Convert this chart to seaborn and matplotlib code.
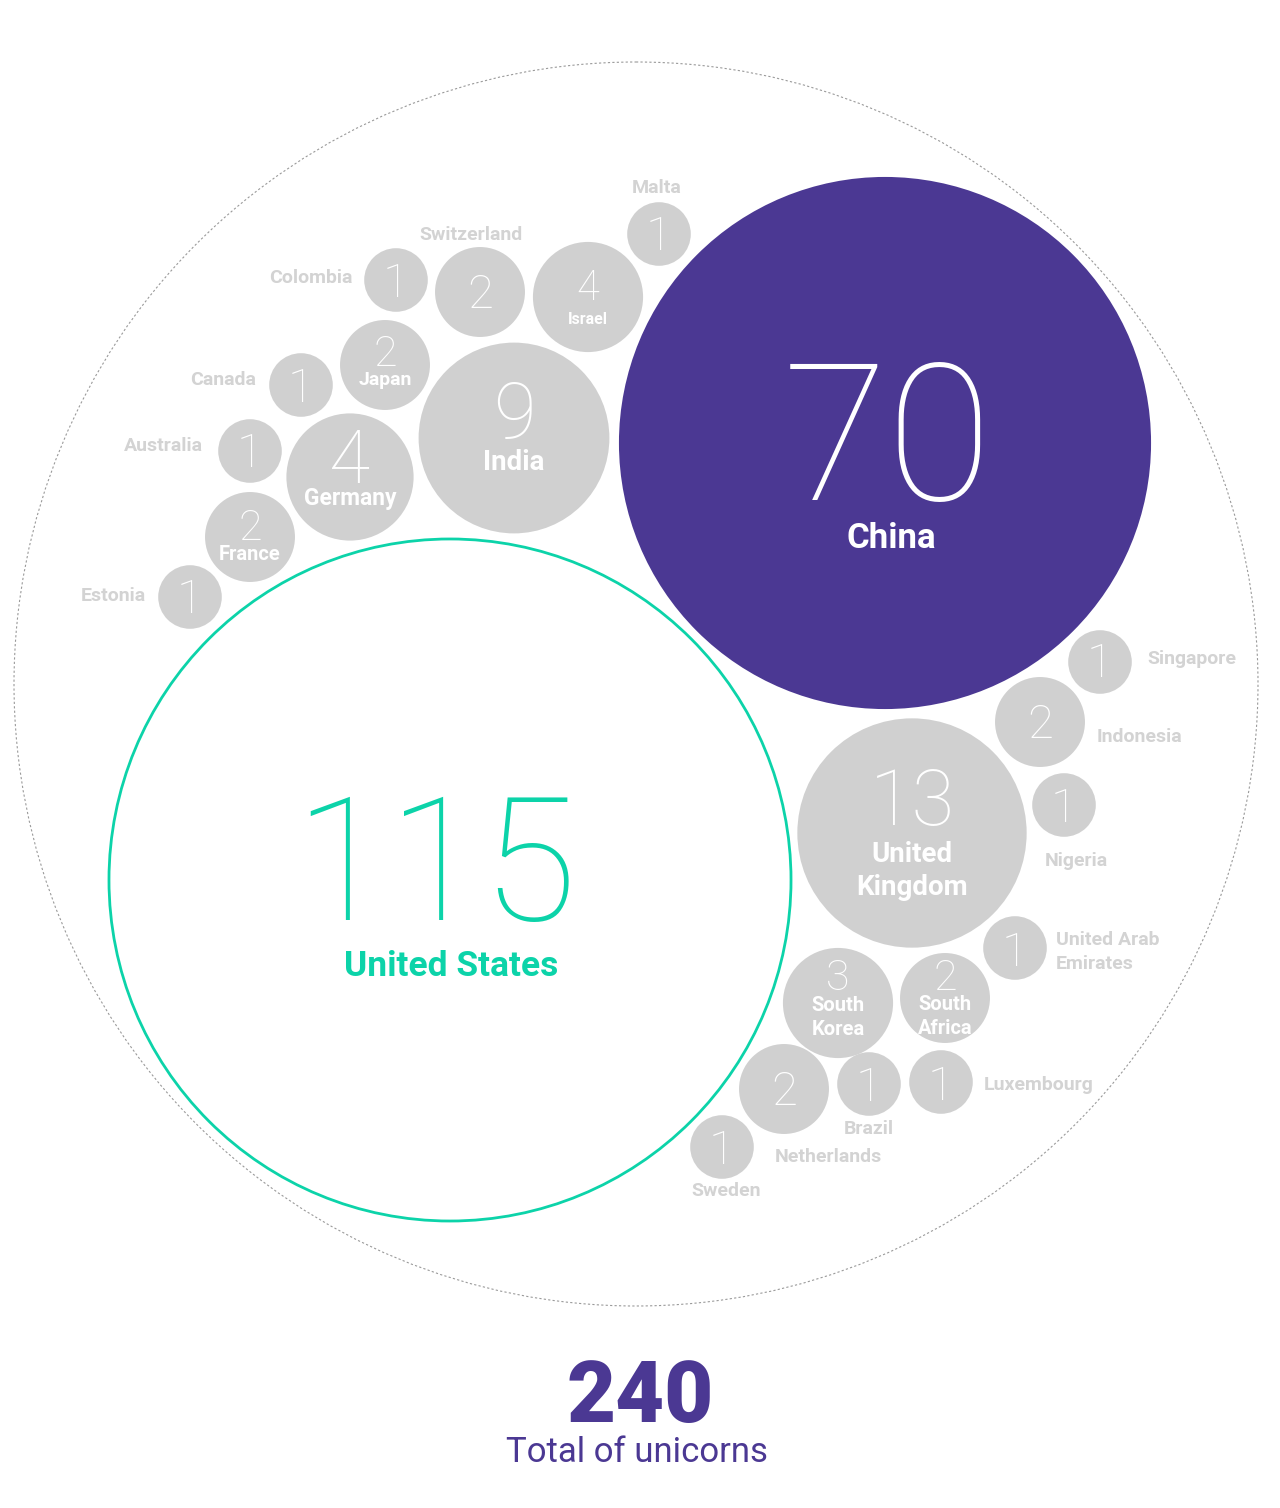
import numpy as np
import pandas as pd
import matplotlib
matplotlib.use("Agg")
import matplotlib.pyplot as plt
from matplotlib.patches import Circle
import seaborn as sns

# ---------------- data ----------------
countries = ["United States", "China", "United Kingdom", "India", "Germany", "Israel",
             "South Korea", "Switzerland", "Japan", "France", "Indonesia", "South Africa",
             "Netherlands", "Malta", "Colombia", "Canada", "Australia", "Estonia",
             "Singapore", "Nigeria", "United Arab Emirates", "Luxembourg", "Brazil", "Sweden"]
# value printed in each bubble
unicorns = [115, 70, 13, 9, 4, 4, 3, 2, 2, 2, 2, 2, 2, 1, 1, 1, 1, 1, 1, 1, 1, 1, 1, 1]
# value that sets the bubble area (as drawn in the source; Israel's bubble is drawn at 3)
bubble_size = [115, 70, 13, 9, 4, 3, 3, 2, 2, 2, 2, 2, 2, 1, 1, 1, 1, 1, 1, 1, 1, 1, 1, 1]
total_text = "240"
total_label = "Total of unicorns"

# ---------------- layout (pixel space, y down) ----------------
centre = {
    "United States": (450, 880), "China": (885, 443), "United Kingdom": (912, 833),
    "India": (514, 438), "Germany": (350, 477), "Israel": (588, 297),
    "South Korea": (838, 1003), "Switzerland": (480, 292), "Japan": (385, 365),
    "France": (250, 537), "Indonesia": (1040, 722), "South Africa": (945, 998),
    "Netherlands": (784, 1089), "Malta": (659, 234), "Colombia": (396, 280),
    "Canada": (301, 385), "Australia": (250, 451), "Estonia": (190, 597),
    "Singapore": (1100, 662), "Nigeria": (1064, 805), "United Arab Emirates": (1015, 948),
    "Luxembourg": (941, 1082), "Brazil": (869, 1084), "Sweden": (722, 1147),
}
# number: (baseline y, fontsize pt)
num_pos = {
    "United Kingdom": (825, 56), "India": (438, 56), "Germany": (483, 54), "Israel": (300, 30),
    "South Korea": (990, 31), "Switzerland": (308, 34), "Japan": (366, 31), "France": (540, 31),
    "Indonesia": (738, 34), "South Africa": (990, 31), "Netherlands": (1105, 34),
    "Malta": (250, 34), "Colombia": (297, 34), "Canada": (402, 34), "Australia": (467, 34),
    "Estonia": (613, 34), "Singapore": (677, 34), "Nigeria": (822, 34),
    "United Arab Emirates": (966, 34), "Luxembourg": (1100, 34), "Brazil": (1101, 34),
    "Sweden": (1164, 34),
}
# inside labels: list of (text, baseline y, fontsize)
inside_lab = {
    "United Kingdom": [("United", 862, 20), ("Kingdom", 895, 20)],
    "India": [("India", 470, 20)],
    "Germany": [("Germany", 505, 16.5)],
    "Israel": [("Israel", 324, 11.5)],
    "Japan": [("Japan", 385, 14)],
    "France": [("France", 560, 14.5)],
    "South Korea": [("South", 1011, 14.5), ("Korea", 1035, 14.5)],
    "South Africa": [("South", 1010, 14.5), ("Africa", 1034, 14.5)],
}
# outside labels: (x, baseline y, ha, text)
outside_lab = [
    (657, 193, "center", "Malta"),
    (471, 240, "center", "Switzerland"),
    (353, 283, "right", "Colombia"),
    (256, 385, "right", "Canada"),
    (203, 451, "right", "Australia"),
    (146, 601, "right", "Estonia"),
    (1147, 664, "left", "Singapore"),
    (1097, 742, "left", "Indonesia"),
    (1045, 866, "left", "Nigeria"),
    (1056, 945, "left", "United Arab"),
    (1056, 969, "left", "Emirates"),
    (984, 1090, "left", "Luxembourg"),
    (869, 1134, "center", "Brazil"),
    (775, 1162, "left", "Netherlands"),
    (691, 1196, "left", "Sweden"),
]

W, H, DPI = 1280, 1508, 100
PX_PER_SQRT = 31.8  # radius scale: r = k * sqrt(value)

PURPLE = "#4B3893"
TEAL = "#0CD3A9"
GREY = "#D0D0D0"
LABEL_GREY = "#D3D3D3"

sns.set_theme(style="white")
plt.rcParams["font.family"] = ["Roboto", "DejaVu Sans"]

fig = plt.figure(figsize=(W / DPI, H / DPI), dpi=DPI)
ax = fig.add_axes([0, 0, 1, 1])
ax.set_xlim(0, W)
ax.set_ylim(H, 0)
ax.set_aspect("equal")
ax.axis("off")

df = pd.DataFrame({"country": countries, "value": unicorns, "size": bubble_size})
df["x"] = [centre[c][0] for c in df.country]
df["y"] = [centre[c][1] for c in df.country]
df["r"] = PX_PER_SQRT * np.sqrt(df["size"])

# outer dotted circle
ax.add_patch(Circle((636, 684), 622, fill=False, ec="#9a9a9a", lw=0.8, ls=(0, (2, 2))))

# big bubbles
us = df[df.country == "United States"].iloc[0]
ax.add_patch(Circle((us.x, us.y), us.r, fc="white", ec=TEAL, lw=2))
cn = df[df.country == "China"].iloc[0]
ax.add_patch(Circle((cn.x, cn.y), cn.r, fc=PURPLE, ec="none"))

# grey bubbles via seaborn scatter (marker area in pt^2)
small = df[~df.country.isin(["United States", "China"])].copy()
small["s"] = (2 * small["r"] * 72 / DPI) ** 2
sns.scatterplot(data=small, x="x", y="y", s=small["s"].values, color=GREY,
                linewidth=0, ax=ax, legend=False, zorder=3)

# numbers
for _, row in small.iterrows():
    by, fs = num_pos[row.country]
    ax.text(row.x, by, str(row.value), ha="center", va="baseline", fontsize=fs,
            fontweight=100, color="white", zorder=5)
for c, items in inside_lab.items():
    x = centre[c][0]
    for t, by, fs in items:
        ax.text(x, by, t, ha="center", va="baseline", fontsize=fs, fontweight="bold",
                color="white", zorder=5)
for x, by, ha, t in outside_lab:
    ax.text(x, by, t, ha=ha, va="baseline", fontsize=14, fontweight="bold",
            color=LABEL_GREY, zorder=5)

# China / US text
ax.text(888, 500, str(cn.value), ha="center", va="baseline", fontsize=138, fontweight=100,
        color="white", zorder=5)
ax.text(891, 548, "China", ha="center", va="baseline", fontsize=25, fontweight="bold",
        color="white", zorder=5)
ax.text(436, 920, str(us.value), ha="center", va="baseline", fontsize=124, fontweight=100,
        color=TEAL, zorder=5)
ax.text(451, 976, "United States", ha="center", va="baseline", fontsize=25.5, fontweight="bold",
        color=TEAL, zorder=5)

# total
ax.text(640, 1422, total_text, ha="center", va="baseline", fontsize=61, fontweight="heavy",
        color=PURPLE)
ax.text(637, 1462, total_label, ha="center", va="baseline", fontsize=25, fontweight="normal",
        color=PURPLE)

fig.savefig("out.png", dpi=DPI, facecolor="white")
